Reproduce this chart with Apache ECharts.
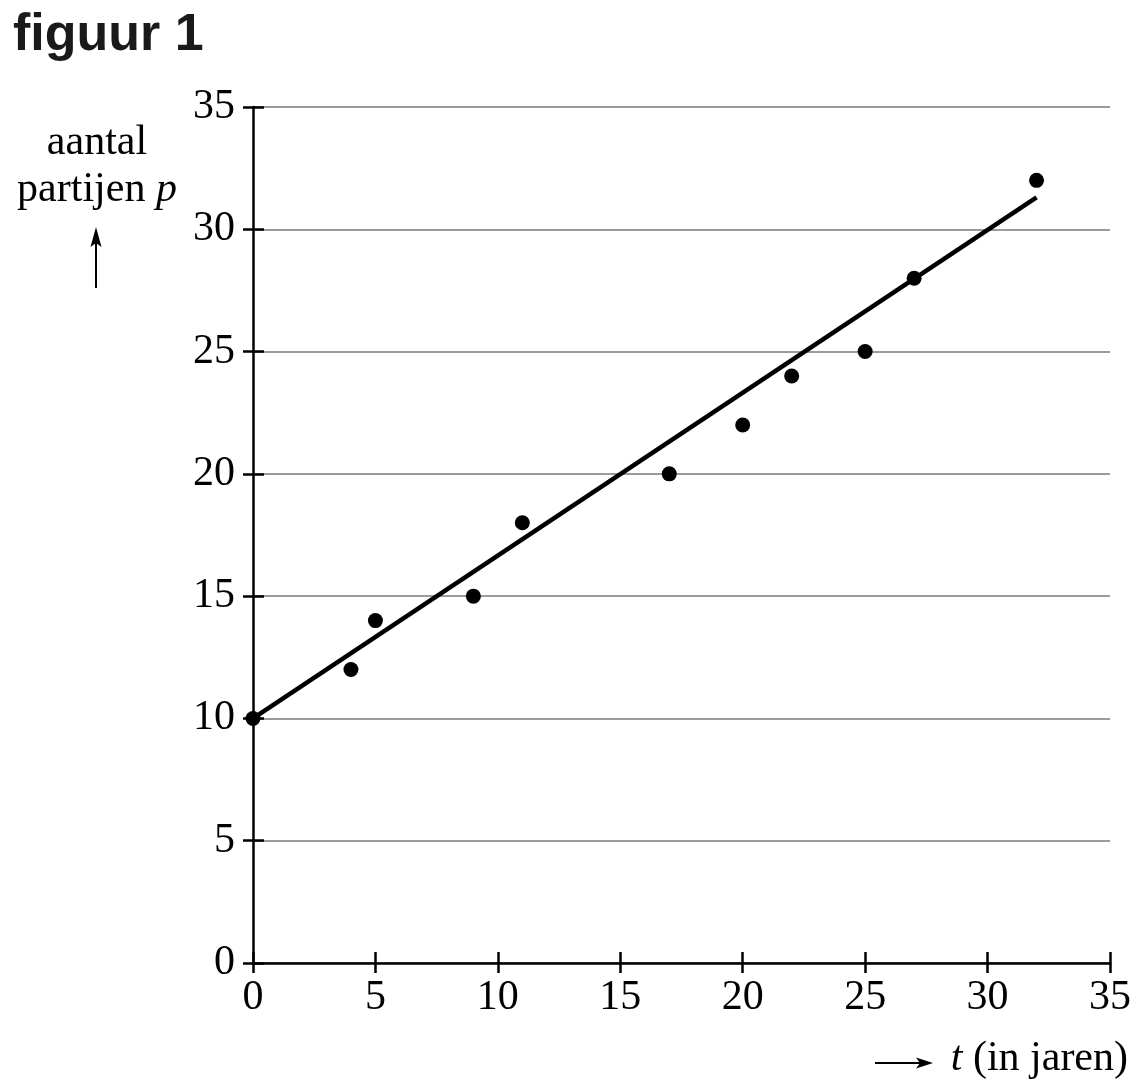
<!DOCTYPE html>
<html><head><meta charset="utf-8">
<script src="https://cdn.jsdelivr.net/npm/echarts@6/dist/echarts.min.js"></script>
<style>html,body{margin:0;padding:0;background:#fff}#c{width:1142px;height:1086px}</style>
</head><body><div id="c"></div>
<script>
const tValues = [0, 4, 5, 9, 11, 17, 20, 22, 25, 27, 32];
const pValues = [10, 12, 14, 15, 18, 20, 22, 24, 25, 28, 32];
const lineT = [0, 32];
const lineP = [10, 31.3];
const xTicks = [0, 5, 10, 15, 20, 25, 30, 35];
const yTicks = [0, 5, 10, 15, 20, 25, 30, 35];

const serif = '"Liberation Serif", "DejaVu Serif", serif';
const chart = echarts.init(document.getElementById('c'), null, {renderer: 'canvas'});
const labelStyle = {fontFamily: serif, fontSize: 42, color: '#000'};

function axisPair(isX) {
  const ticks = isX ? xTicks : yTicks;
  const base = {
    type: 'value', min: ticks[0], max: ticks[ticks.length - 1], interval: ticks[1] - ticks[0],
  };
  return [
    Object.assign({}, base, {
      axisLine: {show: true, onZero: false, lineStyle: {color: '#000', width: 2.5}},
      axisTick: {show: true, inside: false, length: 10, lineStyle: {color: '#000', width: 2.5}},
      axisLabel: Object.assign({margin: isX ? 14 : 18}, labelStyle),
      splitLine: {show: !isX, lineStyle: {color: '#7a7a7a', width: 1.5}}
    }),
    Object.assign({}, base, {
      position: isX ? 'bottom' : 'left',
      axisLine: {show: false},
      axisTick: {show: true, inside: true, length: 11, lineStyle: {color: '#000', width: 2.5}},
      axisLabel: {show: false},
      splitLine: {show: false}
    })
  ];
}

chart.setOption({
  animation: false,
  backgroundColor: '#fff',
  grid: {left: 253, right: 32, top: 107, bottom: 123, containLabel: false},
  xAxis: axisPair(true),
  yAxis: axisPair(false),
  graphic: [
    {type: 'text', left: 13, top: 10, style: {text: 'figuur 1', fontFamily: '"Liberation Sans", Arial, sans-serif', fontWeight: 'bold', fontSize: 52, fill: '#1a1a1a'}},
    {type: 'text', x: 97, y: 143, style: {text: 'aantal', fontFamily: serif, fontSize: 42, fill: '#000', align: 'center', verticalAlign: 'middle'}},
    {type: 'text', x: 97, y: 190, style: {
      text: 'partijen {i|p}', fontFamily: serif, fontSize: 42, fill: '#000', align: 'center', verticalAlign: 'middle',
      rich: {i: {fontFamily: serif, fontSize: 42, fontStyle: 'italic', fill: '#000'}}
    }},
    {type: 'line', shape: {x1: 96, y1: 288, x2: 96, y2: 242}, style: {stroke: '#000', lineWidth: 2}},
    {type: 'polygon', shape: {points: [[96, 227], [90.5, 247], [96, 243], [101.5, 247]]}, style: {fill: '#000'}},
    {type: 'line', shape: {x1: 875, y1: 1063, x2: 920, y2: 1063}, style: {stroke: '#000', lineWidth: 2}},
    {type: 'polygon', shape: {points: [[933, 1063], [916, 1057.5], [920, 1063], [916, 1068.5]]}, style: {fill: '#000'}},
    {type: 'text', x: 1128, y: 1059, style: {
      text: '{i|t} (in jaren)', fontFamily: serif, fontSize: 42, fill: '#000', align: 'right', verticalAlign: 'middle',
      rich: {i: {fontFamily: serif, fontSize: 42, fontStyle: 'italic', fill: '#000'}}
    }}
  ],
  series: [
    {
      type: 'line', xAxisIndex: 0, yAxisIndex: 0,
      data: lineT.map((t, i) => [t, lineP[i]]),
      showSymbol: false, symbol: 'none',
      lineStyle: {color: '#000', width: 4.5}, z: 3
    },
    {
      type: 'scatter', xAxisIndex: 0, yAxisIndex: 0,
      data: tValues.map((t, i) => [t, pValues[i]]),
      symbol: 'circle', symbolSize: 15,
      itemStyle: {color: '#000', opacity: 1}, z: 4
    }
  ]
});
</script></body></html>
